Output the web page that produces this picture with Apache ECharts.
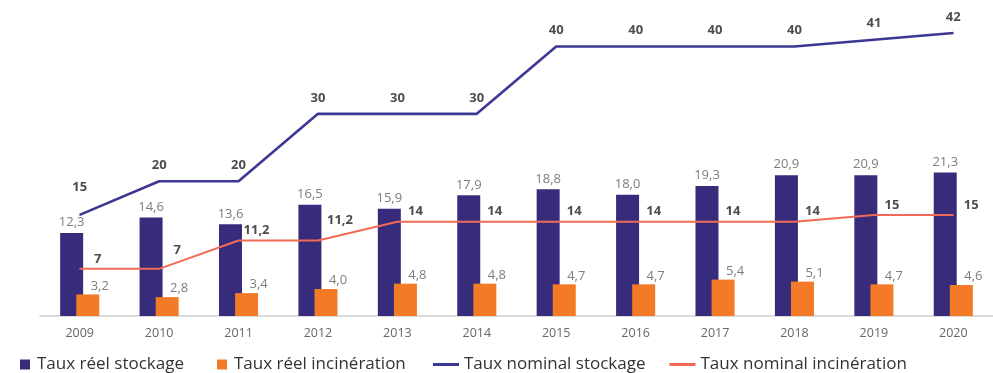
<!DOCTYPE html>
<html>
<head>
<meta charset="utf-8">
<script src="https://cdn.jsdelivr.net/npm/echarts@6/dist/echarts.min.js"></script>
<style>
  html, body { margin: 0; padding: 0; background: #ffffff; }
  #chart { width: 993px; height: 373px; }
</style>
</head>
<body>
<div id="chart"></div>
<script>
// Années
const categories = ['2009', '2010', '2011', '2012', '2013', '2014', '2015', '2016', '2017', '2018', '2019', '2020'];
// Taux réels (€/t)
const reelStockage = [12.3, 14.6, 13.6, 16.5, 15.9, 17.9, 18.8, 18.0, 19.3, 20.9, 20.9, 21.3];
const reelIncineration = [3.2, 2.8, 3.4, 4.0, 4.8, 4.8, 4.7, 4.7, 5.4, 5.1, 4.7, 4.6];
// Taux nominaux (€/t)
const nominalStockage = [15, 20, 20, 30, 30, 30, 40, 40, 40, 40, 41, 42];
const nominalIncineration = [7, 7, 11.2, 11.2, 14, 14, 14, 14, 14, 14, 15, 15];

const COL_NAVY = '#372c7b';
const COL_ORANGE = '#f37a26';
const COL_LINE_BLUE = '#3c3893';
const COL_LINE_SALMON = '#f26a56';
const FONT = '"Open Sans", "Noto Sans", sans-serif';

const fmtDecimal = v => v.toFixed(1).replace('.', ',');
const fmtPlain = v => String(v).replace('.', ',');

// Per-point label nudges so nominal labels clear the bar labels
const stockageLabelNudge = { 0: [0, -12] };
const incinLabelNudge = { 1: [0, -9], 3: [4, -10] };

function withNudges(values, nudges, base) {
  return values.map((v, i) => {
    const n = nudges[i];
    if (!n) return v;
    return { value: v, label: { offset: [base[0] + n[0], base[1] + n[1]] } };
  });
}

const chart = echarts.init(document.getElementById('chart'), null, { renderer: 'canvas' });

const barLabel = {
  show: true,
  position: 'top',
  distance: 4,
  color: '#7d7d7d',
  fontFamily: FONT,
  fontSize: 13,
  formatter: p => fmtDecimal(p.value)
};

const stockageBase = [0, 0];
const incinBase = [18, 2];

const legendText = { fontFamily: FONT, fontSize: 17, color: '#333333' };

chart.setOption({
  animation: false,
  textStyle: { fontFamily: FONT },
  grid: { left: 40, right: -3, top: 6, bottom: 57, containLabel: false },
  legend: [
    {
      // square keys for the bar series
      left: 15,
      top: 351,
      itemWidth: 14,
      itemHeight: 10,
      itemGap: 33,
      textStyle: legendText,
      data: [
        { name: 'Taux réel stockage', icon: 'path://M0,0H10V10H0Z' },
        { name: 'Taux réel incinération', icon: 'path://M0,0H10V10H0Z' }
      ]
    },
    {
      // line keys for the nominal rates
      left: 428,
      top: 351,
      itemWidth: 26,
      itemHeight: 10,
      itemGap: 24,
      textStyle: legendText,
      data: [
        { name: 'Taux nominal stockage', icon: 'path://M0,0H26V3H0Z' },
        { name: 'Taux nominal incinération', icon: 'path://M0,0H26V3H0Z' }
      ]
    }
  ],
  xAxis: {
    type: 'category',
    data: categories,
    boundaryGap: true,
    axisLine: { lineStyle: { color: '#cfcfcf', width: 1.5 } },
    axisTick: { inside: true, length: 6, lineStyle: { color: '#cfcfcf', width: 1.5 } },
    axisLabel: { color: '#666666', fontSize: 12.5, fontFamily: FONT, margin: 11 }
  },
  yAxis: {
    type: 'value',
    min: 0,
    max: 46,
    show: false,
    splitLine: { show: false }
  },
  series: [
    {
      name: 'Taux réel stockage',
      type: 'bar',
      data: reelStockage,
      barWidth: 23,
      barGap: '-30%',
      itemStyle: { color: COL_NAVY },
      label: barLabel,
      z: 2
    },
    {
      name: 'Taux réel incinération',
      type: 'bar',
      data: reelIncineration,
      barWidth: 23,
      itemStyle: { color: COL_ORANGE },
      label: Object.assign({}, barLabel, { offset: [12, 2] }),
      z: 3
    },
    {
      name: 'Taux nominal stockage',
      type: 'line',
      data: withNudges(nominalStockage, stockageLabelNudge, stockageBase),
      symbol: 'circle',
      symbolSize: 1,
      itemStyle: { color: COL_LINE_BLUE },
      lineStyle: { color: COL_LINE_BLUE, width: 2.6 },
      label: {
        show: true,
        position: 'top',
        distance: 9,
        offset: stockageBase,
        color: '#4d4d4d',
        fontWeight: 'bold',
        fontFamily: FONT,
        fontSize: 13,
        formatter: p => fmtPlain(p.value)
      },
      z: 5
    },
    {
      name: 'Taux nominal incinération',
      type: 'line',
      data: withNudges(nominalIncineration, incinLabelNudge, incinBase),
      symbol: 'circle',
      symbolSize: 1,
      itemStyle: { color: COL_LINE_SALMON },
      lineStyle: { color: COL_LINE_SALMON, width: 2 },
      label: {
        show: true,
        position: 'top',
        distance: 5,
        offset: incinBase,
        color: '#4d4d4d',
        fontWeight: 'bold',
        fontFamily: FONT,
        fontSize: 13,
        formatter: p => fmtPlain(p.value)
      },
      z: 5
    }
  ]
});
</script>
</body>
</html>
